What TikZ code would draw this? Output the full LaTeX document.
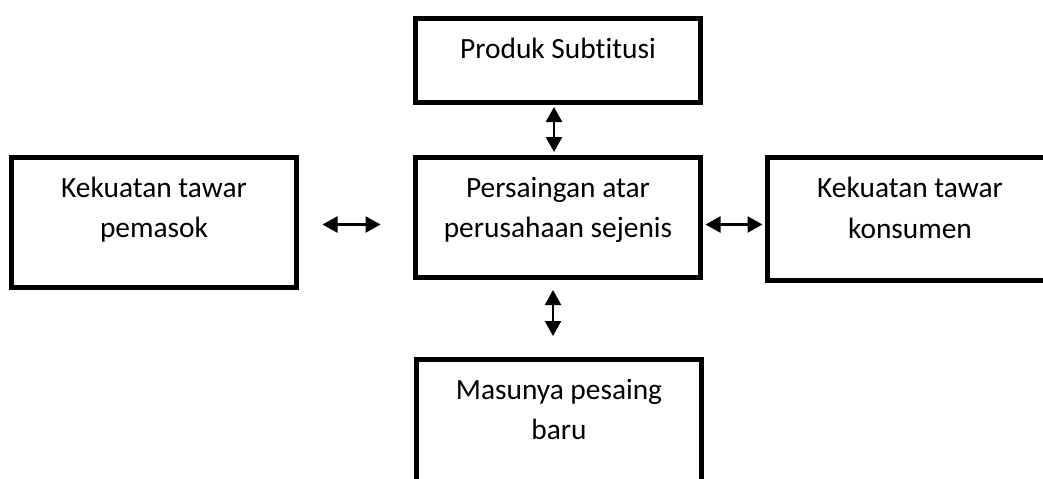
\documentclass[tikz,border=0pt]{standalone}
\usepackage{fontspec}
\setmainfont{Carlito}[Ligatures=NoCommon]
\usepackage{tikz}
\usetikzlibrary{calc,arrows.meta}

\begin{document}
\begin{tikzpicture}

  \path[use as bounding box] (0mm,0mm) rectangle (260.75mm,-119.5mm);
  \clip (0mm,0mm) rectangle (260.75mm,-119.5mm);

  \tikzstyle{forcebox}=[draw,rectangle,line width=1.25mm,anchor=north,inner sep=0mm,minimum width=71.25mm,text height=20.125mm,align=center,font=\fontsize{20.9pt}{28.5pt}\selectfont]
  \tikzstyle{link}=[draw,<->,>={Triangle[length=3.75mm,width=4mm]},line width=0.6mm]
  \tikzstyle{touch}=[shorten <=0.625mm,shorten >=0.625mm]

  % boxes
  \node[forcebox,text height=10.125mm,text depth=10.875mm] (subst) at (139.5mm,-3.875mm) {Produk Subtitusi};
  \node[forcebox,text depth=9.875mm] (rival) at (139.5mm,-38.625mm) {Persaingan atar\\perusahaan sejenis};
  \node[forcebox,text depth=12.375mm] (supplier) at (38.5mm,-38.625mm) {Kekuatan tawar\\pemasok};
  \node[forcebox,text depth=10.5mm] (buyer) at (227.5mm,-38.75mm) {Kekuatan tawar\\konsumen};
  \node[forcebox,text depth=20mm] (entrant) at (139.75mm,-89.125mm) {Masunya pesaing\\baru};

  % arrows
  \draw[link,touch] ($(subst.south)+(-1mm,0)$) -- ($(subst.south |- rival.north)+(-1mm,0)$);
  \draw[link] ($(rival.south)+(-1.25mm,-2.625mm)$) -- ($(rival.south |- entrant.north)+(-1.25mm,5.125mm)$);
  \draw[link] ($(supplier.east)+(5.875mm,-0.625mm)$) -- ($(rival.west)+(-8.125mm,-1.875mm)$);
  \draw[link,touch] ($(rival.east)+(0,-1.875mm)$) -- ($(rival.east -| buyer.west)+(0,-1.875mm)$);

\end{tikzpicture}
\end{document}
